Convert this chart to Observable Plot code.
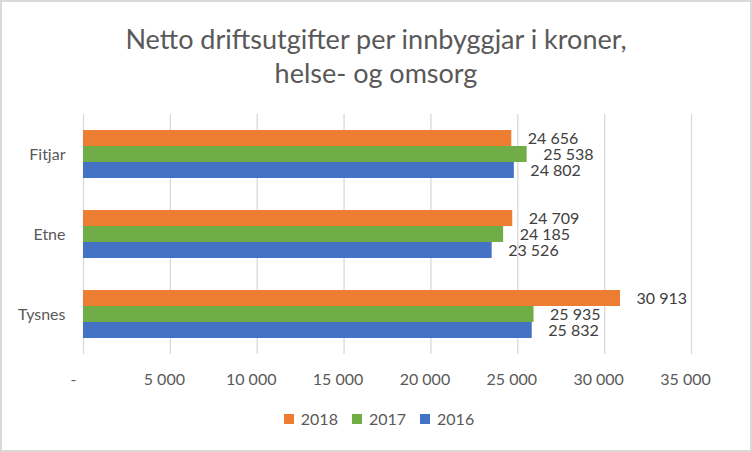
<!DOCTYPE html>
<html>
<head>
<meta charset="utf-8">
<script src="https://cdn.jsdelivr.net/npm/d3@7"></script>
<script src="https://cdn.jsdelivr.net/npm/@observablehq/plot@0.6"></script>
<style>
  html, body { margin: 0; padding: 0; background: #fff; }
  #wrap { position: relative; width: 752px; height: 452px; background: #fff; overflow: hidden; font-family: Lato, sans-serif; }
  #frame { position: absolute; left: 0; top: 0; width: 752px; height: 452px; box-sizing: border-box; border: 2px solid #d9d9d9; pointer-events: none; }
  #title { position: absolute; left: 0; top: 0; width: 752px; padding-top: 22px; text-align: center; font-size: 27px; line-height: 34px; color: #595959; }
  #chart { position: absolute; left: 0; top: 100px; }
  #legend { position: absolute; left: 10px; top: 409px; width: 752px; }
  #legend .lg-swatches { display: flex; justify-content: center; margin: 0 !important; min-height: 0 !important; font-family: Lato, sans-serif !important; font-size: 16px !important; color: #595959 !important; }
  #legend .lg-swatch { margin-right: 14px !important; }
  #legend .lg-swatch > svg { margin-right: 7px !important; }
</style>
</head>
<body>
<div id="wrap">
  <div id="title">Netto driftsutgifter per innbyggjar i kroner,<br>helse- og omsorg</div>
  <div id="chart"></div>
  <div id="legend"></div>
  <div id="frame"></div>
</div>
<script>
const kommunar = ["Fitjar", "Etne", "Tysnes"];
const years = ["2018", "2017", "2016"];
const v2018 = [24656, 24709, 30913];
const v2017 = [25538, 24185, 25935];
const v2016 = [24802, 23526, 25832];
const xTicks = [0, 5000, 10000, 15000, 20000, 25000, 30000, 35000];
const colors = ["#ED7D31", "#70AD47", "#4472C4"];

const series = [v2018, v2017, v2016];
const rows = kommunar.flatMap((k, i) => years.map((y, j) => ({kommune: k, year: y, value: series[j][i]})));

const fmt = v => v === 0 ? "-" : d3.format(",")(v).replace(/,/g, "\u00a0");

const plot = Plot.plot({
  width: 752,
  height: 300,
  marginTop: 13,
  marginBottom: 45,
  marginLeft: 83,
  marginRight: 61,
  style: {fontFamily: "Lato, sans-serif", fontSize: "16px", color: "#595959", background: "transparent", overflow: "visible"},
  facet: {data: rows, y: "kommune", label: null},
  fy: {domain: kommunar, padding: 0, axis: "left", tickSize: 0, tickPadding: 18, label: null},
  y: {domain: years, paddingInner: 0, paddingOuter: 0.975, axis: null},
  x: {domain: [0, 35000], ticks: xTicks, tickFormat: fmt, tickSize: 0, tickPadding: 19, label: null},
  color: {domain: years, range: colors},
  marks: [
    Plot.ruleX(xTicks, {x: d => d, stroke: "#d9d9d9", strokeWidth: 1.3}),
    Plot.barX(rows, {x: "value", y: "year", fill: "year"}),
    Plot.text(rows, {x: "value", y: "year", text: d => fmt(d.value), dx: 16, textAnchor: "start", fill: "#404040", fontSize: 16})
  ]
});
document.getElementById("chart").appendChild(plot);

d3.select(plot).selectAll('[aria-label^="x-axis"] text').each(function(d, i) {
  const t = d3.select(this);
  t.attr("dx", t.text() === "-" ? -10 : -6);
});

const legend = Plot.legend({
  color: {domain: years, range: colors},
  swatchSize: 10,
  className: "lg"
});
document.getElementById("legend").appendChild(legend);
</script>
</body>
</html>
